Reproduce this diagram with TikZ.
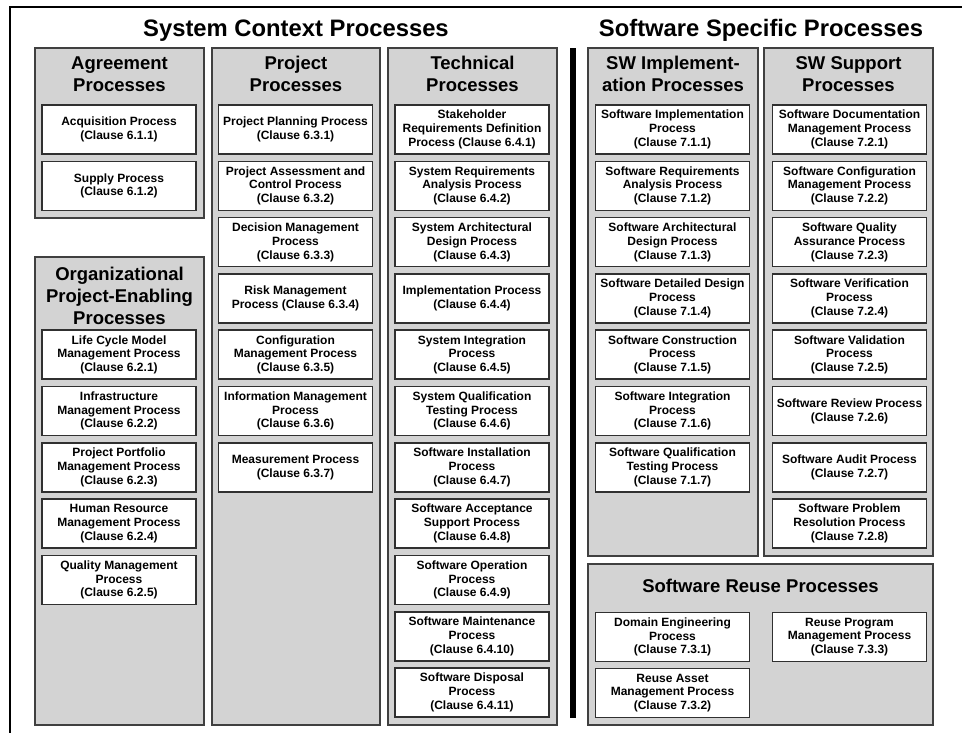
\documentclass[tikz,border=0pt]{standalone}
\usepackage{fontspec}
\setmainfont{Liberation Sans}
\usetikzlibrary{positioning}

\definecolor{grpfill}{HTML}{D3D3D3}
\definecolor{grpline}{HTML}{404040}
\definecolor{boxline}{HTML}{303030}
\newcommand{\titlefont}{\fontsize{23.8}{26}\selectfont\bfseries}
\newcommand{\headfont}{\fontsize{18.5}{22}\selectfont\bfseries}
\newcommand{\boxfont}{\fontsize{12}{13.8}\selectfont\bfseries}

\begin{document}
\begin{tikzpicture}[x=1pt, y=-1pt]
  \useasboundingbox (0,0) rectangle (962,732);

  % outer frame and divider
  \draw [line width=2.5pt] (10,740) -- (10,7) -- (970,7);
  \draw [line width=6pt] (573,48) -- (573,718);

  \node [font=\titlefont, anchor=base] (ctx) at (296,36) {System Context Processes};
  \node [font=\titlefont, anchor=base] (swp) at (761,36) {Software Specific Processes};

  % group frames
  \begin{scope}[fill=grpfill, draw=grpline, line width=2pt]
    \filldraw (35,48) rectangle (204,218);
    \filldraw (35,257) rectangle (204,725);
    \filldraw (212,48) rectangle (380,725);
    \filldraw (388,48) rectangle (557,725);
    \filldraw (588,48) rectangle (758,556);
    \filldraw (764,48) rectangle (933,556);
    \filldraw (588,564) rectangle (933,725);
  \end{scope}

  \begin{scope}[every node/.style={align=center, font=\headfont}]
    \node (hagr) at (119.5,74) {Agreement\\Processes};
    \node (horg) at (119.5,295.5) {Organizational\\Project-Enabling\\Processes};
    \node (hprj) at (296,74) {Project\\Processes};
    \node (htec) at (472.5,74) {Technical\\Processes};
    \node (himp) at (673,74) {SW Implement-\\ation Processes};
    \node (hsup) at (848.5,74) {SW Support\\Processes};
    \node (hreu) at (760.5,586) {Software Reuse Processes};
  \end{scope}

  \begin{scope}[every node/.style={rectangle, draw=boxline, fill=white, line width=1.6pt, minimum width=154pt, minimum height=49pt, inner sep=1pt, align=center, font=\boxfont}]
    % agreement
    \node (agr1) at (119,129.5) {Acquisition Process\\(Clause 6.1.1)};
    \node (agr2) at (119,185.8) {Supply Process\\(Clause 6.1.2)};
    % organizational
    \node (org1) at (119,354.7) {Life Cycle Model\\Management Process\\(Clause 6.2.1)};
    \node (org2) at (119,411) {Infrastructure\\Management Process\\(Clause 6.2.2)};
    \node (org3) at (119,467.3) {Project Portfolio\\Management Process\\(Clause 6.2.3)};
    \node (org4) at (119,523.6) {Human Resource\\Management Process\\(Clause 6.2.4)};
    \node (org5) at (119,579.9) {Quality Management\\Process\\(Clause 6.2.5)};
    % project
    \node (prj1) at (295.5,129.5) {Project Planning Process\\(Clause 6.3.1)};
    \node (prj2) at (295.5,185.8) {Project Assessment and\\Control Process\\(Clause 6.3.2)};
    \node (prj3) at (295.5,242.1) {Decision Management\\Process\\(Clause 6.3.3)};
    \node (prj4) at (295.5,298.4) {Risk Management\\Process (Clause 6.3.4)};
    \node (prj5) at (295.5,354.7) {Configuration\\Management Process\\(Clause 6.3.5)};
    \node (prj6) at (295.5,411) {Information Management\\Process\\(Clause 6.3.6)};
    \node (prj7) at (295.5,467.3) {Measurement Process\\(Clause 6.3.7)};
    % technical
    \node (tec1) at (472,129.5) {Stakeholder\\Requirements Definition\\Process (Clause 6.4.1)};
    \node (tec2) at (472,185.8) {System Requirements\\Analysis Process\\(Clause 6.4.2)};
    \node (tec3) at (472,242.1) {System Architectural\\Design Process\\(Clause 6.4.3)};
    \node (tec4) at (472,298.4) {Implementation Process\\(Clause 6.4.4)};
    \node (tec5) at (472,354.7) {System Integration\\Process\\(Clause 6.4.5)};
    \node (tec6) at (472,411) {System Qualification\\Testing Process\\(Clause 6.4.6)};
    \node (tec7) at (472,467.3) {Software Installation\\Process\\(Clause 6.4.7)};
    \node (tec8) at (472,523.6) {Software Acceptance\\Support Process\\(Clause 6.4.8)};
    \node (tec9) at (472,579.9) {Software Operation\\Process\\(Clause 6.4.9)};
    \node (tec10) at (472,636.2) {Software Maintenance\\Process\\(Clause 6.4.10)};
    \node (tec11) at (472,692.5) {Software Disposal\\Process\\(Clause 6.4.11)};
    % sw implementation
    \node (imp1) at (672.5,129.5) {Software Implementation\\Process\\(Clause 7.1.1)};
    \node (imp2) at (672.5,185.8) {Software Requirements\\Analysis Process\\(Clause 7.1.2)};
    \node (imp3) at (672.5,242.1) {Software Architectural\\Design Process\\(Clause 7.1.3)};
    \node (imp4) at (672.5,298.4) {Software Detailed Design\\Process\\(Clause 7.1.4)};
    \node (imp5) at (672.5,354.7) {Software Construction\\Process\\(Clause 7.1.5)};
    \node (imp6) at (672.5,411) {Software Integration\\Process\\(Clause 7.1.6)};
    \node (imp7) at (672.5,467.3) {Software Qualification\\Testing Process\\(Clause 7.1.7)};
    % sw support
    \node (sup1) at (849.5,129.5) {Software Documentation\\Management Process\\(Clause 7.2.1)};
    \node (sup2) at (849.5,185.8) {Software Configuration\\Management Process\\(Clause 7.2.2)};
    \node (sup3) at (849.5,242.1) {Software Quality\\Assurance Process\\(Clause 7.2.3)};
    \node (sup4) at (849.5,298.4) {Software Verification\\Process\\(Clause 7.2.4)};
    \node (sup5) at (849.5,354.7) {Software Validation\\Process\\(Clause 7.2.5)};
    \node (sup6) at (849.5,411) {Software Review Process\\(Clause 7.2.6)};
    \node (sup7) at (849.5,467.3) {Software Audit Process\\(Clause 7.2.7)};
    \node (sup8) at (849.5,523.6) {Software Problem\\Resolution Process\\(Clause 7.2.8)};
    % sw reuse
    \node (reu1) at (672.5,637) {Domain Engineering\\Process\\(Clause 7.3.1)};
    \node (reu2) at (672.5,693) {Reuse Asset\\Management Process\\(Clause 7.3.2)};
    \node (reu3) at (849.5,637) {Reuse Program\\Management Process\\(Clause 7.3.3)};
  \end{scope}
\end{tikzpicture}
\end{document}
